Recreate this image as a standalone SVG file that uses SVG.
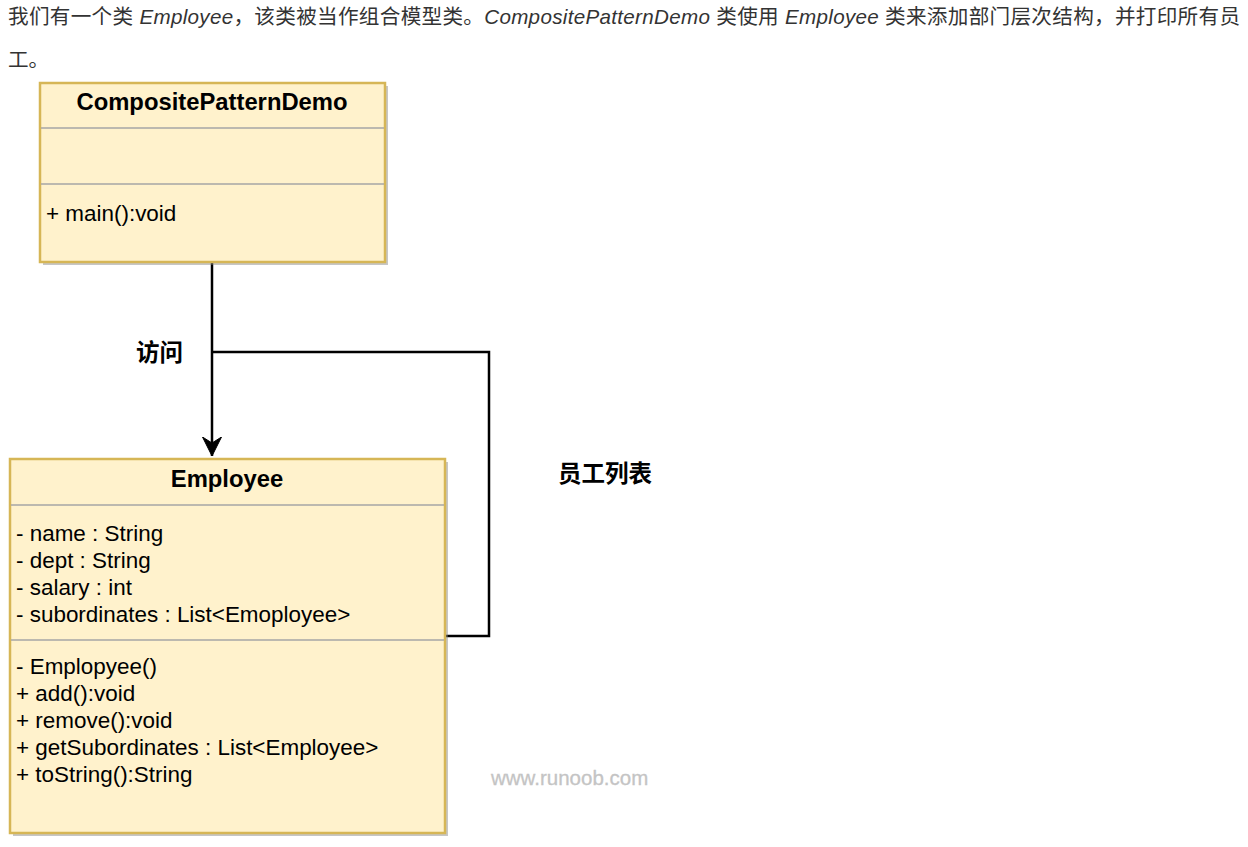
<svg xmlns="http://www.w3.org/2000/svg" width="1248" height="847" viewBox="0 0 1248 847">
  <style>
    .intro { font-family: "Liberation Sans", "Noto Sans CJK SC", sans-serif; font-size: 20.6px; fill: #333333; }
    .it { font-style: italic; }
    .box { fill: #fff2cc; stroke: #d6b656; stroke-width: 2.5; }
    .shadow { fill: #808080; opacity: 0.45; }
    .div { stroke: #a6a6a6; stroke-width: 1.5; }
    .title { font-family: "Liberation Sans", Arial, sans-serif; font-size: 23.8px; font-weight: bold; fill: #000000; text-anchor: middle; }
    .member { font-family: "Liberation Sans", Arial, sans-serif; font-size: 22.45px; fill: #000000; }
    .label { font-family: "Noto Sans CJK SC", sans-serif; font-size: 23.5px; font-weight: bold; fill: #000000; }
    .conn { fill: none; stroke: #000000; stroke-width: 2.5; }
    .wm { font-family: "Liberation Sans", Arial, sans-serif; font-size: 20.5px; fill: #c4c4c4; stroke: #c4c4c4; stroke-width: 0.3; }
  </style>
  <defs>
    <marker id="arrow" viewBox="0 0 20 20" refX="19" refY="10" markerWidth="20" markerHeight="20" markerUnits="userSpaceOnUse" orient="auto">
      <path d="M0,0.5 L19,10 L0,19.5 L6,10 Z" fill="#000000" stroke="#000000" stroke-width="1"/>
    </marker>
  </defs>
  <rect width="1248" height="847" fill="#ffffff"/>

  <g id="intro">
    <text class="intro" x="8" y="24" textLength="1232" lengthAdjust="spacing">我们有一个类 <tspan class="it">Employee</tspan>，该类被当作组合模型类。<tspan class="it">CompositePatternDemo</tspan> 类使用 <tspan class="it">Employee</tspan> 类来添加部门层次结构，并打印所有员</text>
    <text class="intro" x="8" y="67">工。</text>
  </g>

  <g id="connectors">
    <line class="conn" x1="212" y1="263" x2="212" y2="456" marker-end="url(#arrow)"/>
    <polyline class="conn" points="212,352 489,352 489,636 445,636"/>
  </g>

  <g id="CompositePatternDemo">
    <rect class="shadow" x="43" y="86" width="345" height="179"/>
    <rect class="box" x="40" y="83" width="345" height="179"/>
    <line class="div" x1="41" y1="128" x2="384" y2="128"/>
    <line class="div" x1="41" y1="184" x2="384" y2="184"/>
    <text class="title" x="212" y="110">CompositePatternDemo</text>
    <text class="member" x="46" y="221">+ main():void</text>
  </g>

  <g id="Employee">
    <rect class="shadow" x="13" y="462" width="435" height="374"/>
    <rect class="box" x="10" y="459" width="435" height="374"/>
    <line class="div" x1="11" y1="505" x2="444" y2="505"/>
    <line class="div" x1="11" y1="640" x2="444" y2="640"/>
    <text class="title" x="227" y="487">Employee</text>
    <text class="member" x="16" y="541">- name : String</text>
    <text class="member" x="16" y="568">- dept : String</text>
    <text class="member" x="16" y="595">- salary : int</text>
    <text class="member" x="16" y="622">- subordinates : List&lt;Emoployee&gt;</text>
    <text class="member" x="16" y="674">- Emplopyee()</text>
    <text class="member" x="16" y="701">+ add():void</text>
    <text class="member" x="16" y="728">+ remove():void</text>
    <text class="member" x="16" y="755">+ getSubordinates : List&lt;Employee&gt;</text>
    <text class="member" x="16" y="782">+ toString():String</text>
  </g>

  <g id="labels">
    <text class="label" x="136" y="361">访问</text>
    <text class="label" x="558" y="482">员工列表</text>
  </g>

  <text class="wm" x="491" y="785">www.runoob.com</text>
</svg>
